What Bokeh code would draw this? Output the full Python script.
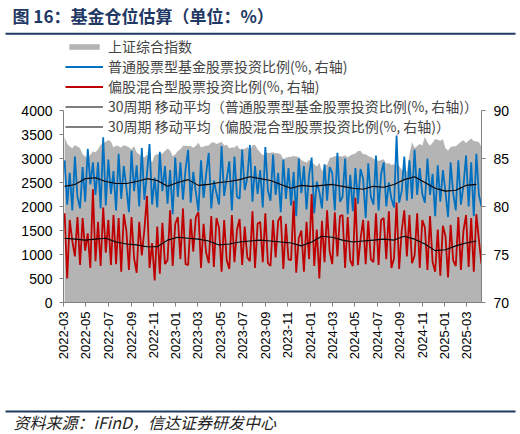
import pandas as pd
from bokeh.plotting import figure
from bokeh.layouts import column
from bokeh.models import (Range1d, LinearAxis, FixedTicker, DatetimeTickFormatter,
                          Legend, LegendItem, Label, ColumnDataSource)
from bokeh.embed import file_html
from bokeh.resources import INLINE

title_text = "图 16：基金仓位估算（单位：%）"
source_text = "资料来源：iFinD，信达证券研发中心"
series_names = [
    "上证综合指数",
    "普通股票型基金股票投资比例(%, 右轴)",
    "偏股混合型股票投资比例(%, 右轴)",
    "30周期 移动平均（普通股票型基金股票投资比例(%, 右轴)）",
    "30周期 移动平均（偏股混合型股票投资比例(%, 右轴)）",
]
first_week = "2022-03-04"
week_step_days = 7
month_ticks = ["2022-03", "2022-05", "2022-07", "2022-09", "2022-11",
               "2023-01", "2023-03", "2023-05", "2023-07", "2023-09", "2023-11",
               "2024-01", "2024-03", "2024-05", "2024-07", "2024-09", "2024-11",
               "2025-01", "2025-03"]
left_ticks = [0, 500, 1000, 1500, 2000, 2500, 3000, 3500, 4000]
right_ticks = [70, 75, 80, 85, 90]

# 上证综合指数 (weekly)
sse = [3448, 3309, 3251, 3212, 3282, 3252, 3211, 3087, 3047, 3002, 3084, 3146, 3131,
       3195, 3285, 3316, 3349, 3388, 3356, 3228, 3270, 3253, 3227, 3277, 3258, 3236,
       3186, 3262, 3126, 3088, 3024, 3024, 3072, 3038, 2916, 3071, 3087, 3097, 3102,
       3156, 3207, 3168, 3045, 3089,
       3158, 3195, 3265, 3265, 3263, 3261, 3224, 3267, 3329, 3230, 3250, 3266, 3273,
       3327, 3338, 3301, 3323, 3350, 3272, 3284, 3213, 3231, 3231, 3274, 3198, 3202,
       3197, 3238, 3168, 3276, 3288, 3190, 3132, 3065, 3133, 3117, 3118, 3132, 3110,
       3110, 3088, 2984, 3017, 3030, 3039, 3054, 3041, 3032, 2970, 2942, 2914, 2975,
       2929, 2882, 2833, 2910, 2730, 2866, 2866, 3004, 3027, 3046, 3055, 3048, 3041,
       3069, 3019, 3065, 3088, 3105, 3154, 3154, 3089, 3087, 3051, 3033, 2998, 2967,
       2950, 2971, 2982, 2891, 2905, 2862, 2880, 2855, 2842, 2765, 2704, 2736, 3088,
       3336, 3217, 3261, 3300, 3272, 3452, 3331, 3267, 3326, 3404, 3392, 3368, 3400,
       3211, 3169, 3241, 3253, 3253, 3303, 3347, 3379, 3321, 3373, 3419, 3364, 3352,
       3342, 3238]

# 普通股票型基金股票投资比例 (%)
stock_fund = [84.8, 80.2, 83.5, 79.6, 85.2, 81.0, 79.8, 84.1, 80.5, 86.0, 82.3, 84.6,
              81.2, 84.6, 79.8, 87.2, 80.1, 84.9, 81.3, 83.7, 79.6, 85.5, 80.8, 84.2,
              82.0, 79.4, 85.8, 81.6, 84.3, 80.0, 86.1, 80.7, 83.4, 86.5, 80.2, 83.0,
              79.9, 85.7, 81.6, 84.2, 80.3, 83.8, 79.2, 85.1, 81.0, 84.6, 80.7, 83.9,
              85.9, 80.4, 83.6, 81.5, 79.5, 84.8, 80.9, 83.4, 85.6, 79.8, 82.7, 81.4,
              80.2, 86.3, 81.1, 82.9, 84.7, 79.6, 85.2, 81.0, 80.8, 85.9, 81.7, 83.0,
              86.4, 80.5, 84.2, 81.3, 83.8, 79.9, 86.2, 81.7, 80.6, 85.4, 81.2, 83.5,
              79.4, 84.9, 80.8, 84.0, 80.1, 83.6, 79.0, 85.0, 81.4, 84.2, 79.7, 83.3,
              85.1, 79.3, 82.6, 81.5, 79.8, 84.4, 80.6, 84.1, 83.5, 79.6, 85.6, 80.5,
              81.0, 85.0, 79.2, 83.3, 79.5, 84.0, 80.3, 83.9, 82.9, 78.8, 84.5, 81.0,
              80.2, 85.3, 79.6, 83.4, 84.6, 80.0, 82.5, 80.8, 79.9, 87.4, 80.4, 81.6,
              85.2, 80.6, 84.8, 80.8, 85.9, 81.2, 84.0, 81.3, 80.4, 85.0, 81.2, 83.4,
              79.0, 84.3, 80.5, 83.8, 81.5, 78.9, 84.6, 81.4, 79.6, 84.8, 80.2, 82.2,
              85.3, 80.0, 84.6, 79.0, 85.5, 81.2, 80.0]

# 偏股混合型股票投资比例 (%)
mixed_fund = [79.3, 72.5, 78.6, 76.4, 74.8, 78.9, 73.9, 78.8, 75.4, 77.2, 73.6, 81.8,
              74.3, 78.4, 73.8, 79.9, 75.2, 78.6, 73.9, 79.1, 74.0, 78.8, 73.2, 79.2,
              77.5, 73.4, 78.9, 74.6, 73.1, 78.4, 74.9, 77.6, 81.1, 73.6, 76.2, 72.3,
              77.9, 73.0, 78.3, 74.0, 74.4, 79.6, 73.8, 78.2, 78.9, 74.5, 79.8, 74.0,
              73.9, 78.7, 75.3, 78.9, 79.4, 73.6, 78.2, 75.2, 74.1, 79.0, 73.7, 78.8,
              77.8, 73.2, 78.6, 74.4, 73.5, 79.1, 74.2, 77.6, 78.7, 73.9, 77.9, 74.7,
              74.3, 79.5, 73.6, 78.2, 78.4, 74.2, 79.3, 74.1, 73.8, 78.6, 74.7, 78.5,
              79.0, 73.5, 78.2, 74.5, 74.4, 80.6, 73.1, 76.7, 77.5, 73.2, 78.4, 74.5,
              81.3, 73.8, 77.6, 72.5, 78.5, 74.2, 79.6, 75.3, 74.0, 79.4, 74.8, 79.0,
              79.1, 73.6, 78.9, 74.4, 73.8, 80.9, 73.9, 76.6, 78.6, 74.0, 78.5, 74.5,
              74.2, 79.3, 73.9, 78.6, 78.8, 74.5, 79.5, 73.6, 74.6, 80.4, 73.5, 77.5,
              79.6, 74.8, 79.1, 74.1, 74.9, 79.3, 73.6, 78.6, 77.8, 73.4, 79.0, 74.2,
              73.2, 77.6, 72.8, 78.0, 76.9, 72.6, 78.1, 74.4, 73.8, 78.9, 73.4, 77.5,
              79.1, 73.7, 78.8, 73.2, 79.2, 76.5, 74.0]

# 30-period moving averages, read every 4 weeks
ma_every = 4
stock_ma = [82.1, 82.3, 82.9, 83.0, 82.6, 82.4, 82.4, 82.6, 82.9, 82.7,
            82.1, 82.5, 82.8, 82.2, 82.3, 82.5, 82.6, 82.8, 83.1, 82.9,
            82.7, 82.3, 81.9, 82.2, 82.1, 82.2, 82.3, 82.1, 81.9, 81.8,
            82.1, 82.0, 82.3, 82.8, 83.1, 82.5, 81.9, 81.6, 81.7, 82.2, 82.3]
mixed_ma = [76.7, 76.6, 76.5, 76.6, 76.7, 76.3, 76.1, 76.0, 75.8, 75.8,
            76.5, 76.8, 76.7, 76.6, 76.4, 76.0, 76.1, 76.3, 76.4, 76.5,
            76.4, 76.3, 76.2, 75.9, 76.3, 76.9, 76.8, 76.5, 76.3, 76.4,
            76.5, 76.6, 76.5, 76.9, 76.6, 76.1, 75.4, 75.5, 75.9, 76.2, 76.4]

dates = pd.date_range(first_week, periods=len(sse), freq=f"{week_step_days}D")
ma_dates = dates[::ma_every][:len(stock_ma)]

src = ColumnDataSource(dict(date=dates, sse=sse, zero=[0] * len(sse),
                            stock=stock_fund, mixed=mixed_fund))
ma_src = ColumnDataSource(dict(date=ma_dates, stock_ma=stock_ma, mixed_ma=mixed_ma))

NAVY = "#1F3864"
AX = "#808080"
FONT = "Noto Sans CJK SC"
NUMFONT = "Liberation Sans"
W = 518

# ---------- layout geometry (pixels) ----------
TOP_H = 36            # page y 0 .. 36
Y0_PX = 266           # value 0 sits 266 px below the top of the main figure
MAIN_H = 364          # page y 36 .. 400
BOTTOM_H = 34         # page y 400 .. 434
PX_PER_LEFT = 0.048   # px per index point
PX_PER_RIGHT = 9.6    # px per percent


def band_figure(h):
    # y measured upward from the bottom of the band (pixels)
    f = figure(width=W, height=h, x_range=Range1d(0, W), y_range=Range1d(0, h),
               output_backend="svg", toolbar_location=None,
               x_axis_location=None, y_axis_location=None,
               min_border=0, frame_align=False)
    f.outline_line_color = None
    f.xgrid.visible = False
    f.ygrid.visible = False
    return f


def add_rule(f, h, y_from_top):
    f.segment(x0=[5], y0=[h - y_from_top], x1=[515], y1=[h - y_from_top],
              line_color=NAVY, line_width=2)


top = band_figure(TOP_H)
top.add_layout(Label(x=12, y=TOP_H - 15, text=title_text, text_font=FONT,
                     text_font_size="17px", text_font_style="bold", text_color=NAVY,
                     text_baseline="middle"))
add_rule(top, TOP_H, 33.3)

bot = band_figure(BOTTOM_H)
add_rule(bot, BOTTOM_H, 11)
bot.add_layout(Label(x=13, y=BOTTOM_H - 21, text=source_text, text_font=FONT,
                     text_font_size="16px", text_font_style="italic", text_color="#222222",
                     text_baseline="middle"))

# main chart
p = figure(width=W, height=MAIN_H, x_axis_type="datetime",
           x_range=Range1d(pd.Timestamp("2022-03-01"), pd.Timestamp("2025-04-11")),
           y_range=Range1d(0, Y0_PX / PX_PER_LEFT),
           output_backend="svg", toolbar_location=None, frame_align=False,
           min_border_left=63, min_border_right=W - 481,
           min_border_top=0, min_border_bottom=MAIN_H - Y0_PX)
p.extra_y_ranges = {"r": Range1d(70, 70 + Y0_PX / PX_PER_RIGHT)}
p.outline_line_color = None
p.xgrid.visible = False
p.ygrid.visible = False

r_area = p.varea(x="date", y1="zero", y2="sse", source=src, fill_color="#B4B4B4")
r_blue = p.line(x="date", y="stock", source=src, line_color="#0070C0",
                line_width=1.8, y_range_name="r")
r_red = p.line(x="date", y="mixed", source=src, line_color="#C00000",
               line_width=1.8, y_range_name="r")
r_bma = p.line(x="date", y="stock_ma", source=ma_src, line_color="black",
               line_width=1.1, y_range_name="r")
r_rma = p.line(x="date", y="mixed_ma", source=ma_src, line_color="black",
               line_width=1.1, y_range_name="r")


def style_axis(ax):
    ax.axis_line_color = AX
    ax.major_tick_line_color = AX
    ax.minor_tick_line_color = None
    ax.major_tick_in = 0
    ax.major_tick_out = 4
    ax.major_label_text_font = NUMFONT
    ax.major_label_text_color = "black"


la = p.yaxis[0]
la.ticker = FixedTicker(ticks=left_ticks)
la.bounds = (left_ticks[0], left_ticks[-1])
style_axis(la)
la.major_label_text_font_size = "14px"
la.major_label_standoff = 7

ra = LinearAxis(y_range_name="r", ticker=FixedTicker(ticks=right_ticks),
                bounds=(right_ticks[0], right_ticks[-1]))
style_axis(ra)
ra.major_label_text_font_size = "14px"
ra.major_label_standoff = 8
p.add_layout(ra, "right")

xa = p.xaxis[0]
xa.ticker = FixedTicker(ticks=[pd.Timestamp(m + "-01").value // 10**6 for m in month_ticks])
fmt = "%Y-%m"
xa.formatter = DatetimeTickFormatter(milliseconds=fmt, seconds=fmt, minsec=fmt, minutes=fmt,
                                     hourmin=fmt, hours=fmt, days=fmt, months=fmt, years=fmt)
style_axis(xa)
xa.major_label_orientation = 3.14159265 / 2
xa.major_label_text_font_size = "13px"
xa.major_label_standoff = 5

legend = Legend(items=[LegendItem(label=series_names[0], renderers=[r_area]),
                       LegendItem(label=series_names[1], renderers=[r_blue]),
                       LegendItem(label=series_names[2], renderers=[r_red]),
                       LegendItem(label=series_names[3], renderers=[r_bma]),
                       LegendItem(label=series_names[4], renderers=[r_rma])],
                location=(2, 166), orientation="vertical",
                glyph_width=38, glyph_height=7, label_standoff=5,
                label_text_font=FONT, label_text_font_size="14px",
                label_height=19, spacing=0, padding=0, margin=0,
                border_line_color=None, background_fill_alpha=0)
p.add_layout(legend)

layout = column(top, p, bot, spacing=0)
open("out.html", "w").write(file_html(layout, INLINE))
